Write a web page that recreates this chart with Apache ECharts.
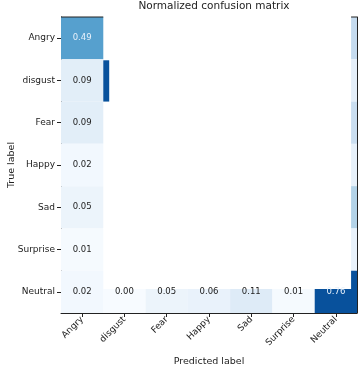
<!DOCTYPE html>
<html>
<head>
<meta charset="utf-8">
<script src="https://cdn.jsdelivr.net/npm/echarts@6/dist/echarts.min.js"></script>
<style>
  html, body { margin: 0; padding: 0; background: #fff; }
  #chart { width: 363px; height: 369px; }
</style>
</head>
<body>
<div id="chart"></div>
<script>
const labels = ["Angry", "disgust", "Fear", "Happy", "Sad", "Surprise", "Neutral"];
// true label -> predicted Angry
const angryColumn = [0.49, 0.09, 0.09, 0.02, 0.05, 0.01, 0.02];
// true Neutral -> predicted label
const neutralRow = [0.02, 0.00, 0.05, 0.06, 0.11, 0.01, 0.76];
// predicted Neutral for Angry..Surprise (only a sliver is visible, no text)
const neutralColumn = [0.22, 0.08, 0.20, 0.07, 0.27, 0.06];
const disgustDiag = 0.76;
const colorMax = 0.87;

const FONT = "DejaVu Sans";
const TEXT = "#222";
const blues = ["#f7fbff", "#deebf7", "#c6dbef", "#9ecae1", "#6baed6", "#4292c6", "#2171b5", "#08519c", "#08306b"];

const chart = echarts.init(document.getElementById("chart"));

// cell drawer, part = which piece of the cell is painted
function cellRenderer(part, withText) {
  return function (params, api) {
    const v = api.value(2);
    const c = api.coord([api.value(0), api.value(1)]);
    const s = api.size([1, 1]);
    let x = c[0] - s[0] / 2, y = c[1] - s[1] / 2, w = s[0], h = s[1];
    if (part === "lower") { y = y + h * 0.43; h = h * 0.57; }
    if (part === "right") { x = x + w * 0.86; w = w * 0.14; }
    if (part === "left") { w = w * 0.14; y = y + 1; h = h - 1; }
    const children = [{
      type: "rect",
      shape: { x: x, y: y, width: w, height: h },
      style: { fill: api.visual("color") }
    }];
    if (withText) {
      children.push({
        type: "text",
        style: {
          text: v.toFixed(2),
          x: c[0], y: c[1],
          align: "center", verticalAlign: "middle",
          fill: v > colorMax / 2 ? "#e8f1fb" : TEXT,
          font: "8.5px " + FONT
        },
        z2: 10
      });
    }
    if (api.value(1) === 0) {
      children.push({
        type: "line",
        shape: { x1: x, y1: y, x2: x + w, y2: y },
        style: { stroke: TEXT, lineWidth: 1 }
      });
    }
    return { type: "group", children: children };
  };
}

const fullData = angryColumn.map((v, i) => [0, i, v]);
const lowerData = neutralRow.slice(1).map((v, i) => [i + 1, 6, v]);
const rightData = neutralColumn.map((v, i) => [6, i, v]).concat([[6, 6, neutralRow[6]]]);
const diagData = [[1, 1, disgustDiag]];

const axisCommon = {
  type: "category",
  data: labels,
  axisLine: { show: true, lineStyle: { color: TEXT, width: 1 } },
  axisTick: { show: true, alignWithLabel: true, length: 4, lineStyle: { color: TEXT } },
  splitLine: { show: false },
  nameLocation: "middle",
  nameMoveOverlap: false,
  nameTextStyle: { fontFamily: FONT, fontSize: 9.5, color: TEXT }
};

chart.setOption({
  animation: false,
  title: {
    text: "Normalized confusion matrix",
    left: 209,
    textAlign: "center",
    top: -4,
    textStyle: { fontFamily: FONT, fontSize: 10.5, fontWeight: "normal", color: TEXT }
  },
  grid: { left: 61, top: 17, width: 296, height: 296, outerBoundsMode: "none", containLabel: false },
  visualMap: {
    show: false,
    min: 0,
    max: colorMax,
    dimension: 2,
    inRange: { color: blues }
  },
  xAxis: Object.assign({}, axisCommon, {
    name: "Predicted label",
    nameGap: 44,
    axisLabel: { rotate: 45, fontFamily: FONT, fontSize: 9, color: TEXT, margin: 5 }
  }),
  yAxis: [
    Object.assign({}, axisCommon, {
      inverse: true,
      name: "True label",
      nameGap: 44,
      axisLabel: { fontFamily: FONT, fontSize: 9, color: TEXT, margin: 6 }
    }),
    {
      type: "category",
      data: labels,
      inverse: true,
      position: "right",
      axisLine: { show: true, lineStyle: { color: TEXT, width: 1 } },
      axisTick: { show: false },
      axisLabel: { show: false },
      splitLine: { show: false }
    }
  ],
  series: [
    { type: "custom", renderItem: cellRenderer("full", true), data: fullData, encode: { x: 0, y: 1 } },
    { type: "custom", renderItem: cellRenderer("lower", true), data: lowerData, encode: { x: 0, y: 1 } },
    { type: "custom", renderItem: cellRenderer("right", false), data: rightData, encode: { x: 0, y: 1 } },
    { type: "custom", renderItem: cellRenderer("left", false), data: diagData, encode: { x: 0, y: 1 } }
  ]
});
</script>
</body>
</html>
